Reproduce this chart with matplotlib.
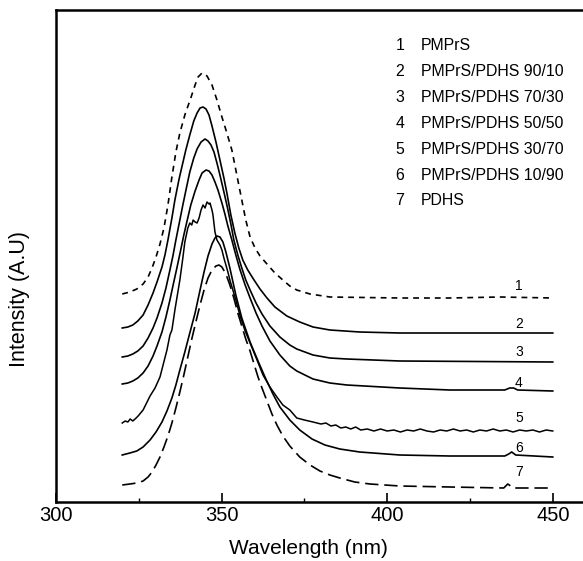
import matplotlib
matplotlib.use("Agg")
import matplotlib.pyplot as plt
from matplotlib.ticker import MultipleLocator

plt.rcParams['font.family'] = ['Liberation Sans', 'DejaVu Sans']

# emission spectra (wavelength in nm, intensity in arbitrary units, stacked)
wl_1 = [320, 322.3, 324.4, 326.3, 327.8, 329.0, 330.2, 331.4, 332.6, 333.8,
        335.0, 336.2, 337.4, 338.9, 340.7, 342.0, 342.9, 344.1, 345.6, 347.1,
        348.6, 350.1, 351.6, 353.1, 354.6, 356.1, 357.3, 358.6, 360.1, 361.6,
        363.7, 366.1, 368.5, 370.6, 372.7, 376.7, 382.7, 403.8, 418.9, 434.0, 450]
int_1 = [208, 210, 213, 218, 225, 234, 245, 258, 274, 297,
         325, 350, 369, 387, 404, 417, 425, 429, 426, 417,
         402, 385, 369, 352, 327, 302, 282, 265, 254, 246,
         238, 229, 222, 216, 212, 208, 205, 204, 204, 205, 204]

wl_2 = [320, 321.7, 323.2, 324.7, 326.3, 327.8, 329.3, 330.5, 332.0, 332.9,
        333.8, 335.0, 335.9, 337.1, 338.0, 339.2, 340.4, 341.6, 342.6, 343.5,
        344.4, 345.3, 346.2, 347.1, 348.3, 349.5, 350.7, 351.6, 352.8, 354.0,
        355.2, 356.4, 357.9, 359.8, 361.6, 363.7, 366.1, 369.7, 373.6, 377.6,
        382.7, 391.7, 403.8, 450]
int_2 = [174, 175, 177, 181, 187, 197, 209, 220, 235, 247,
         262, 284, 302, 322, 335, 352, 367, 381, 389, 394,
         395, 393, 387, 376, 360, 342, 324, 309, 287, 269,
         254, 242, 232, 222, 213, 204, 195, 186, 180, 175,
         172, 170, 169, 169]

wl_3 = [320, 321.7, 323.2, 324.7, 326.3, 327.8, 329.3, 330.5, 332.0, 333.2,
        334.4, 335.3, 336.2, 337.4, 338.3, 339.5, 340.4, 341.6, 342.6, 343.8,
        345.0, 345.9, 346.8, 347.7, 348.6, 349.5, 350.7, 351.6, 352.8, 353.7,
        354.9, 356.1, 357.3, 358.6, 360.4, 362.2, 364.6, 367.6, 370.6, 372.7,
        377.6, 382.7, 387.8, 403.8, 450]
int_3 = [145, 146, 148, 151, 156, 164, 174, 184, 199, 214,
         232, 246, 262, 282, 297, 316, 330, 344, 353, 360,
         363, 361, 357, 350, 339, 327, 310, 297, 278, 262,
         247, 234, 222, 212, 199, 188, 176, 165, 157, 153,
         147, 144, 143, 141, 140]

wl_4 = [320, 321.7, 323.2, 324.7, 326.3, 327.8, 329.3, 330.5, 332.0, 333.2,
        334.4, 335.3, 336.5, 337.4, 338.6, 339.5, 340.7, 342.0, 343.2, 344.1,
        345.3, 346.2, 347.1, 348.0, 348.9, 350.1, 351.0, 351.9, 353.1, 354.3,
        355.5, 357.0, 358.6, 360.4, 362.2, 364.6, 367.6, 370.6, 372.7, 377.6,
        382.7, 387.8, 403.8, 418.9, 435.5, 437.0, 438.2, 439.4, 450]
int_4 = [118, 119, 121, 124, 129, 136, 146, 156, 170, 185,
         202, 216, 234, 248, 267, 280, 297, 311, 322, 329,
         332, 331, 327, 320, 312, 299, 288, 276, 262, 247,
         233, 218, 204, 189, 176, 161, 147, 136, 131, 123,
         119, 117, 114, 112, 112, 114, 114, 112, 111]

wl_5 = [320, 320.9, 321.7, 322.4, 323.2, 324.2, 324.8, 326.3, 328.4, 329.9, 331.4, 333.5, 334.4,
        335.0, 335.9, 337.4, 338.3, 338.9, 339.8, 340.4, 341.0, 341.4, 342.0, 342.6, 343.2, 343.8,
        344.4, 345.0, 345.6, 346.2, 346.5, 347.1, 347.4, 348.0, 348.6, 349.5, 350.1, 350.7, 351.3,
        351.9, 352.5, 353.4, 354.3, 355.5, 357.0, 358.6, 360.7, 362.5, 364.6, 366.7, 368.5, 370.6,
        372.7, 375, 377.6, 380, 381.5, 383, 384.5, 386, 387.5, 389, 390.5, 392, 394, 396, 398, 400,
        402, 404, 406, 408, 410, 412, 414, 416, 418, 420, 422, 424, 426, 428, 430, 432, 434, 436,
        438, 440, 442, 444, 446, 448, 450]
int_5 = [79, 81, 80, 83, 81, 84, 86, 92, 106, 114, 125, 152, 167,
         172, 192, 222, 244, 260, 274, 279, 277, 282, 280, 279, 284, 292,
         297, 294, 300, 298, 299, 292, 287, 270, 262, 257, 252, 244, 237,
         230, 222, 212, 202, 187, 172, 159, 142, 127, 115, 105, 97, 92,
         84, 82, 80, 78, 79, 76, 77, 74, 75, 73, 75, 72, 73, 71, 73, 71,
         72, 70, 72, 71, 73, 71, 70, 72, 71, 73, 71, 72, 70, 72, 71, 73, 71, 72,
         70, 72, 71, 72, 70, 72, 71]

wl_6 = [320, 322.3, 324.4, 326.3, 328.4, 330.2, 332.0, 333.5, 335.0, 336.2,
        337.4, 338.9, 340.4, 342.0, 343.5, 344.7, 345.9, 347.1, 348.0, 348.6,
        349.5, 350.4, 351.3, 352.5, 354.3, 356.1, 358.6, 361.0, 363.1, 365.5,
        367.6, 370.6, 373.6, 377.3, 381.2, 385.7, 391.7, 403.8, 418.9, 435.5,
        436.7, 437.6, 438.8, 450]
int_6 = [47, 49, 51, 55, 62, 70, 80, 91, 104, 117,
         132, 150, 169, 189, 212, 230, 246, 258, 264, 266,
         265, 260, 250, 234, 207, 184, 160, 141, 125, 108,
         95, 82, 72, 63, 57, 53, 50, 47, 46, 46,
         48, 50, 47, 45]

wl_7 = [320, 322.3, 324.4, 326.3, 327.8, 329.0, 330.2, 331.4, 332.6, 333.8,
        335.0, 336.2, 337.4, 338.6, 339.8, 341.0, 342.3, 343.5, 344.7, 345.9,
        347.1, 348.3, 349.2, 350.1, 351.3, 352.5, 353.7, 354.9, 356.1, 357.3,
        358.6, 359.8, 361.0, 362.2, 363.7, 365.2, 366.7, 368.5, 370.6, 373.6,
        376.7, 379.7, 382.7, 385.7, 390.2, 394.8, 403.8, 418.9, 435.2, 435.8,
        436.4, 437.3, 437.9, 450]
int_7 = [17, 18, 19, 21, 25, 30, 37, 45, 55, 66,
         79, 94, 110, 127, 145, 163, 181, 197, 212, 224,
         232, 236, 237, 235, 228, 217, 204, 189, 176, 163,
         151, 138, 125, 114, 101, 88, 77, 66, 56, 45,
         37, 31, 27, 24, 20, 18, 16, 15, 14, 16,
         18, 16, 14, 14]

curve_numbers = ['1', '2', '3', '4', '5', '6', '7']
label_heights = [216, 178, 150, 119, 84, 54, 30]
sample_names = ['PMPrS', 'PMPrS/PDHS 90/10', 'PMPrS/PDHS 70/30', 'PMPrS/PDHS 50/50',
                'PMPrS/PDHS 30/70', 'PMPrS/PDHS 10/90', 'PDHS']

W, H = 583, 561
fig = plt.figure(figsize=(W / 100, H / 100), dpi=100)
ax = fig.add_axes([56 / W, (H - 502) / H, 563 / W, 492 / H])

ax.plot(wl_1, int_1, color='black', lw=1.2, dashes=(3.5, 3.0))
ax.plot(wl_2, int_2, color='black', lw=1.2)
ax.plot(wl_3, int_3, color='black', lw=1.2)
ax.plot(wl_4, int_4, color='black', lw=1.2)
ax.plot(wl_5, int_5, color='black', lw=1.1)
ax.plot(wl_6, int_6, color='black', lw=1.2)
ax.plot(wl_7, int_7, color='black', lw=1.2, dashes=(8, 3.5))

for num, h in zip(curve_numbers, label_heights):
    ax.text(439.8, h, num, ha='center', va='center', fontsize=10)

ax.set_xlim(300, 470)
ax.set_ylim(0, 492)
ax.xaxis.set_major_locator(MultipleLocator(50))
ax.xaxis.set_minor_locator(MultipleLocator(25))
ax.set_yticks([])
ax.tick_params(axis='x', which='major', direction='in', length=6.5, width=1.2, labelsize=14.5, pad=3)
ax.tick_params(axis='x', which='minor', direction='in', length=3, width=1.0)
for s in ax.spines.values():
    s.set_linewidth(1.8)

fig.text(308 / W, 1 - 548 / H, 'Wavelength (nm)', ha='center', va='center', fontsize=15)
fig.text(20 / W, 1 - 299 / H, 'Intensity (A.U)', rotation=90, ha='center', va='center', fontsize=15.5)

# numbered key in the upper right
for i, (num, name) in enumerate(zip(curve_numbers, sample_names)):
    y = 1 - (46 + i * 25.8) / H
    fig.text(400 / W, y, num, ha='center', va='center', fontsize=11.4)
    fig.text(421 / W, y, name, ha='left', va='center', fontsize=11.4)

fig.savefig('out.png', dpi=100)
